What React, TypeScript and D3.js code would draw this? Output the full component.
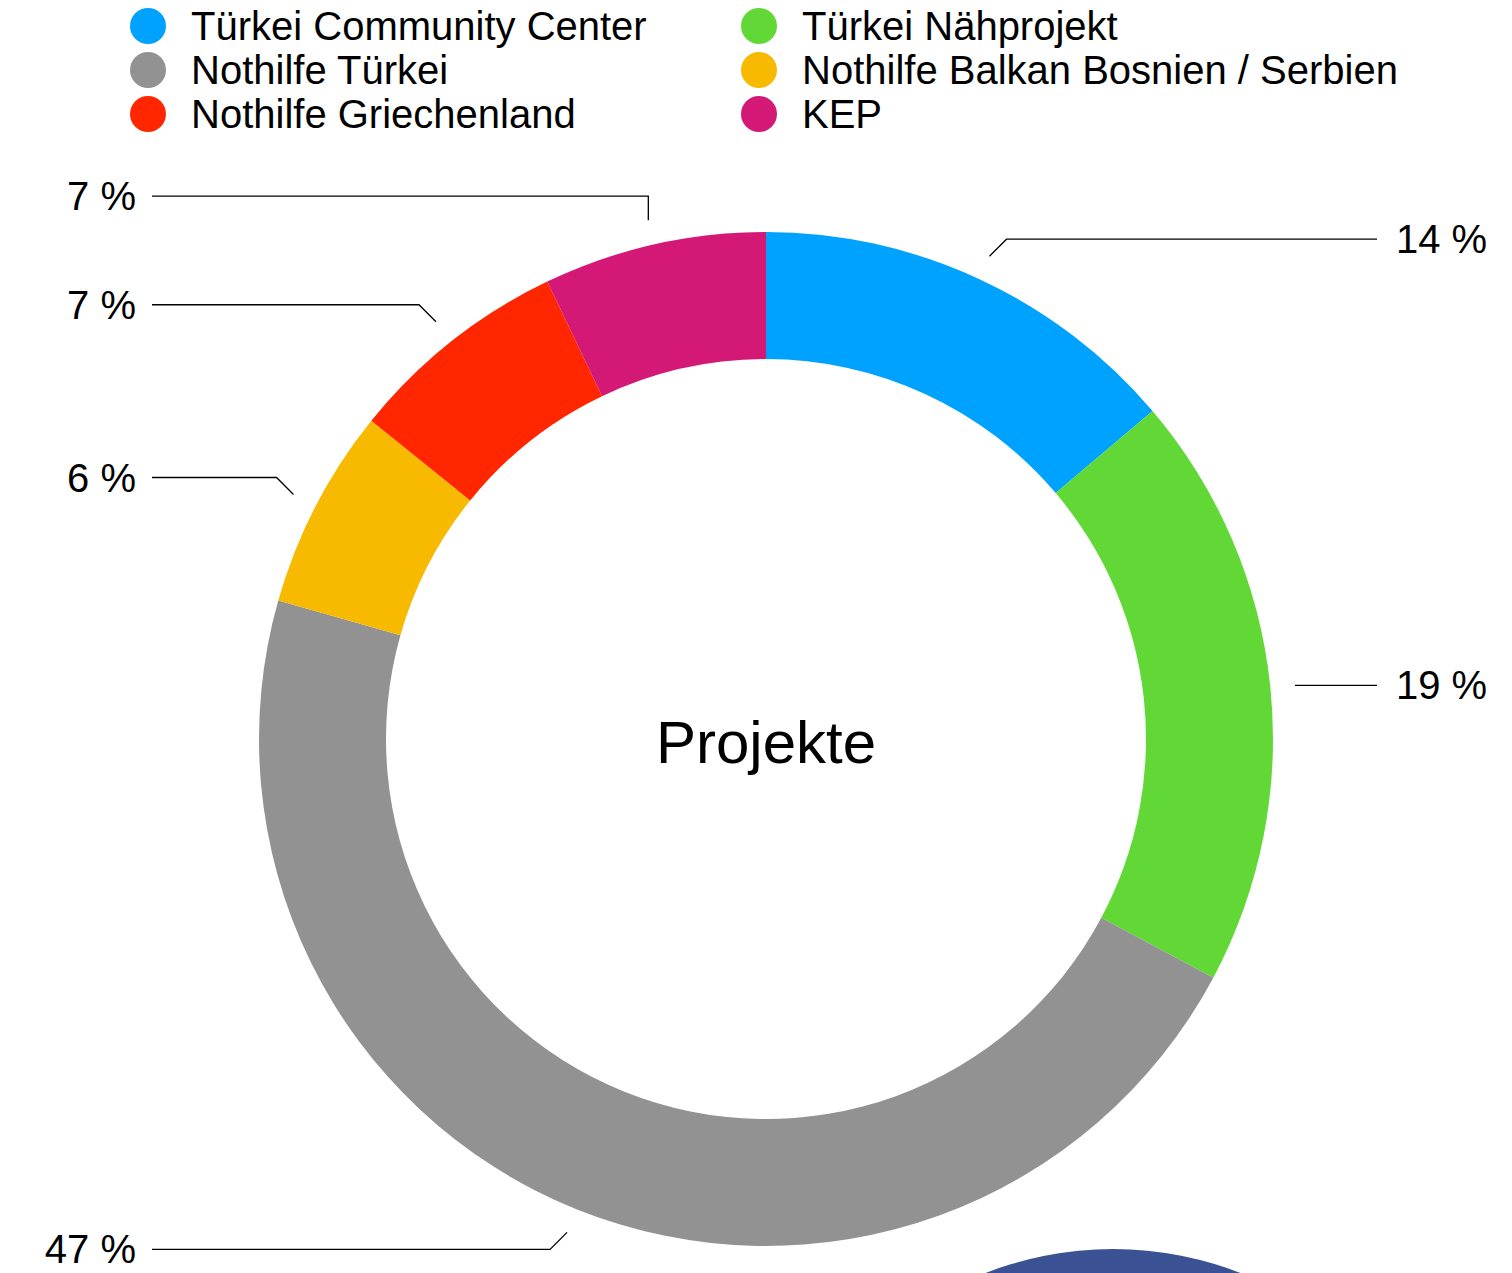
import React from "react";
import * as d3 from "d3";

const categories = [
  "Türkei Community Center",
  "Türkei Nähprojekt",
  "Nothilfe Türkei",
  "Nothilfe Balkan Bosnien / Serbien",
  "Nothilfe Griechenland",
  "KEP",
];
const values = [13.8, 19.0, 46.6, 6.4, 7.1, 7.1];
const colors = ["#00a2ff", "#61d836", "#929292", "#f8ba00", "#ff2600", "#d31876"];
const centerTitle = "Projekte";

const W = 1512;
const H = 1273;
const cx = 766;
const cy = 739;
const outerR = 507;
const innerR = 380;
const FONT = "'Liberation Sans', Arial, Helvetica, sans-serif";

export default function App() {
  const pie = d3.pie<number>().sort(null).value((d) => d)(values);
  const arc = d3.arc<d3.PieArcDatum<number>>().innerRadius(innerR).outerRadius(outerR);
  const total = d3.sum(values);

  const pt = (a: number, r: number) => [Math.sin(a) * r, -Math.cos(a) * r];

  return (
    <svg
      width={W}
      height={H}
      style={{ position: "absolute", left: 0, top: 0, background: "#fff" }}
      fontFamily={FONT}
    >
      {/* legend */}
      {categories.map((c, i) => {
        const col = i % 2;
        const row = Math.floor(i / 2);
        const x = col === 0 ? 148 : 759;
        const y = 26 + row * 44;
        return (
          <g key={c}>
            <circle cx={x} cy={y} r={18} fill={colors[i]} />
            <text x={x + 43} y={y} dy="0.35em" fontSize={40} fill="#000">
              {c}
            </text>
          </g>
        );
      })}

      {/* partial next chart */}
      <circle cx={1113} cy={1599} r={350} fill="#3a5293" />

      <g transform={`translate(${cx},${cy})`}>
        {pie.map((p, i) => (
          <path key={i} d={arc(p) || ""} fill={colors[i]} />
        ))}
        {pie.map((p, i) => {
          const mid = (p.startAngle + p.endAngle) / 2;
          const [x1, y1] = pt(mid, 532);
          const s = Math.sin(mid);
          const c = Math.cos(mid);
          const right = s > 0;
          const dx = Math.abs(s) > 0.3 ? Math.sign(s) * 17 : 0;
          const dy = Math.abs(c) > 0.2 ? -Math.sign(c) * (dx === 0 ? 24 : 17) : 0;
          const x2 = x1 + dx;
          const y2 = dy === 0 ? y1 + 3 : y1 + dy;
          const x3 = right ? 1377 - cx : 152 - cx;
          const tx = right ? 1396 - cx : 136 - cx;
          const pct = Math.round((values[i] / total) * 100);
          const pts = dy === 0 ? `${x1},${y2} ${x3},${y2}` : `${x1},${y1} ${x2},${y2} ${x3},${y2}`;
          return (
            <g key={"l" + i}>
              <polyline points={pts} fill="none" stroke="#000" strokeWidth={1.3} />
              <text
                x={tx}
                y={y2}
                dy="0.35em"
                fontSize={40}
                textAnchor={right ? "start" : "end"}
                fill="#000"
              >
                {pct} %
              </text>
            </g>
          );
        })}
        <text x={0} y={3} dy="0.35em" fontSize={60} textAnchor="middle" fill="#000">
          {centerTitle}
        </text>
      </g>
    </svg>
  );
}
